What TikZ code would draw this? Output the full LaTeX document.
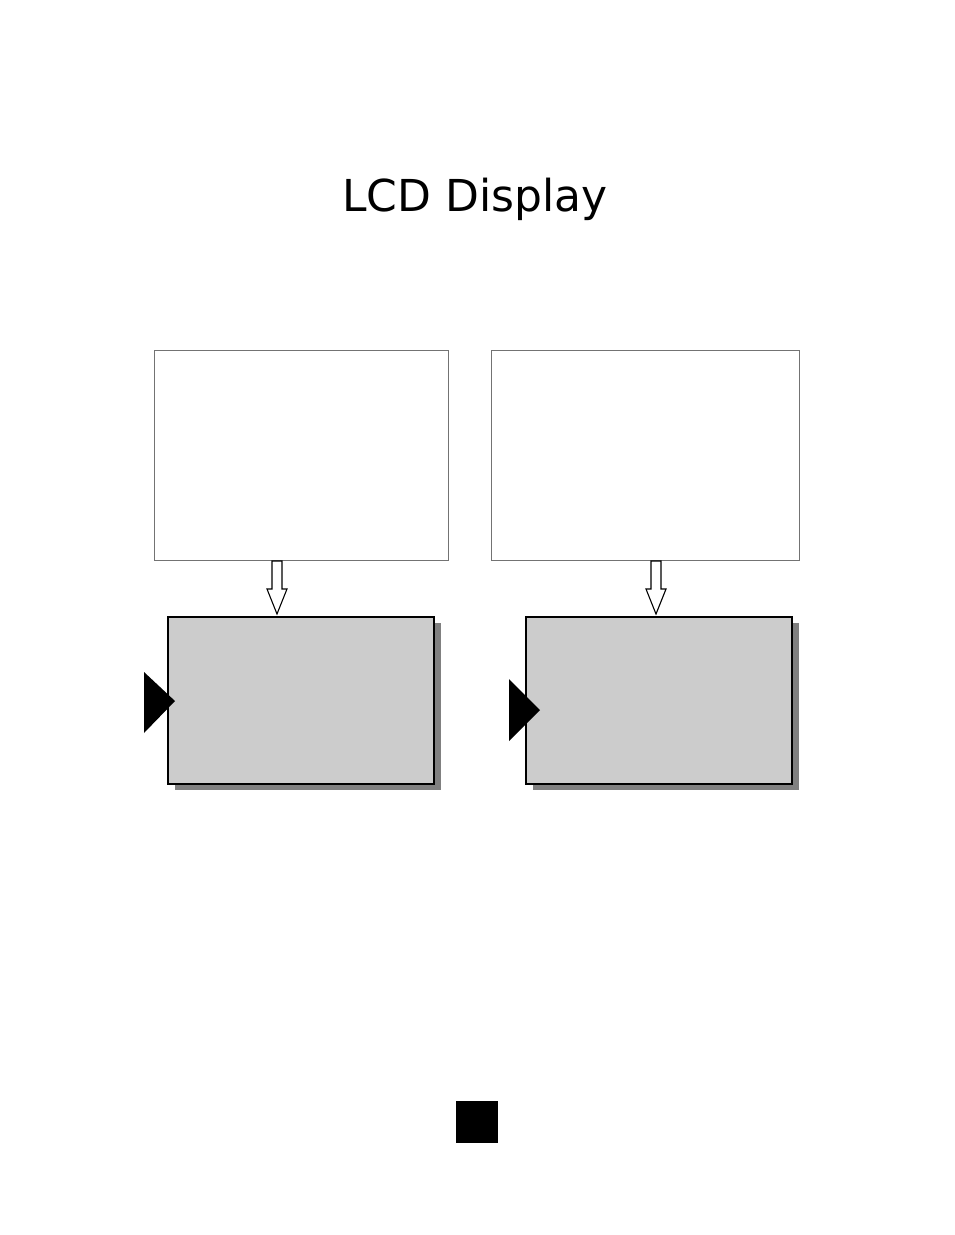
\documentclass[tikz,border=0pt]{standalone}
\usepackage{fontspec}
\setmainfont{DejaVu Sans}
\usetikzlibrary{shadows}
\begin{document}
\begin{tikzpicture}[x=1pt,y=-1pt,
    screen/.style={draw=black!55,line width=0.8pt,fill=white,inner sep=0pt},
    lcd/.style={draw=black,line width=2pt,fill=black!20,inner sep=0pt,
      minimum width=266pt,minimum height=167pt,
      drop shadow={shadow xshift=6.5pt,shadow yshift=-6.5pt,fill=black!50,opacity=1}},
    hollow/.style={draw=black,line width=1.1pt,fill=white}]
      \useasboundingbox[fill=white] (0,0) rectangle (954,1235);
      \node (title) at (475,199) {\fontsize{44}{48}\selectfont LCD Display};
      \def \Screens{
        l/301/294,
        r/645/308}
      \def \Panels{
        l/301.3/277/144/672/733/175/701,
        r/659/656/509/679/741/540/710}
      \foreach \id / \x / \w in \Screens{
        \node[screen,minimum width=\w pt,minimum height=210pt] (top\id) at (\x,455) {};
      }
      \foreach \id / \x / \a / \tx / \ty / \tb / \px / \py in \Panels{
        \node[lcd] (lcd\id) at (\x,700.4) {};
        \draw[hollow] (\a-5,561) -- (\a+5,561) -- (\a+5,589) -- (\a+10,589)
          -- (\a,614) -- (\a-10,589) -- (\a-5,589) -- cycle;
        \fill[black] (\tx,\ty) -- (\px,\py) -- (\tx,\tb) -- cycle;
      }
      \node[fill=black,minimum size=42pt,inner sep=0pt] (page) at (477,1122) {};
    \end{tikzpicture}
\end{document}
